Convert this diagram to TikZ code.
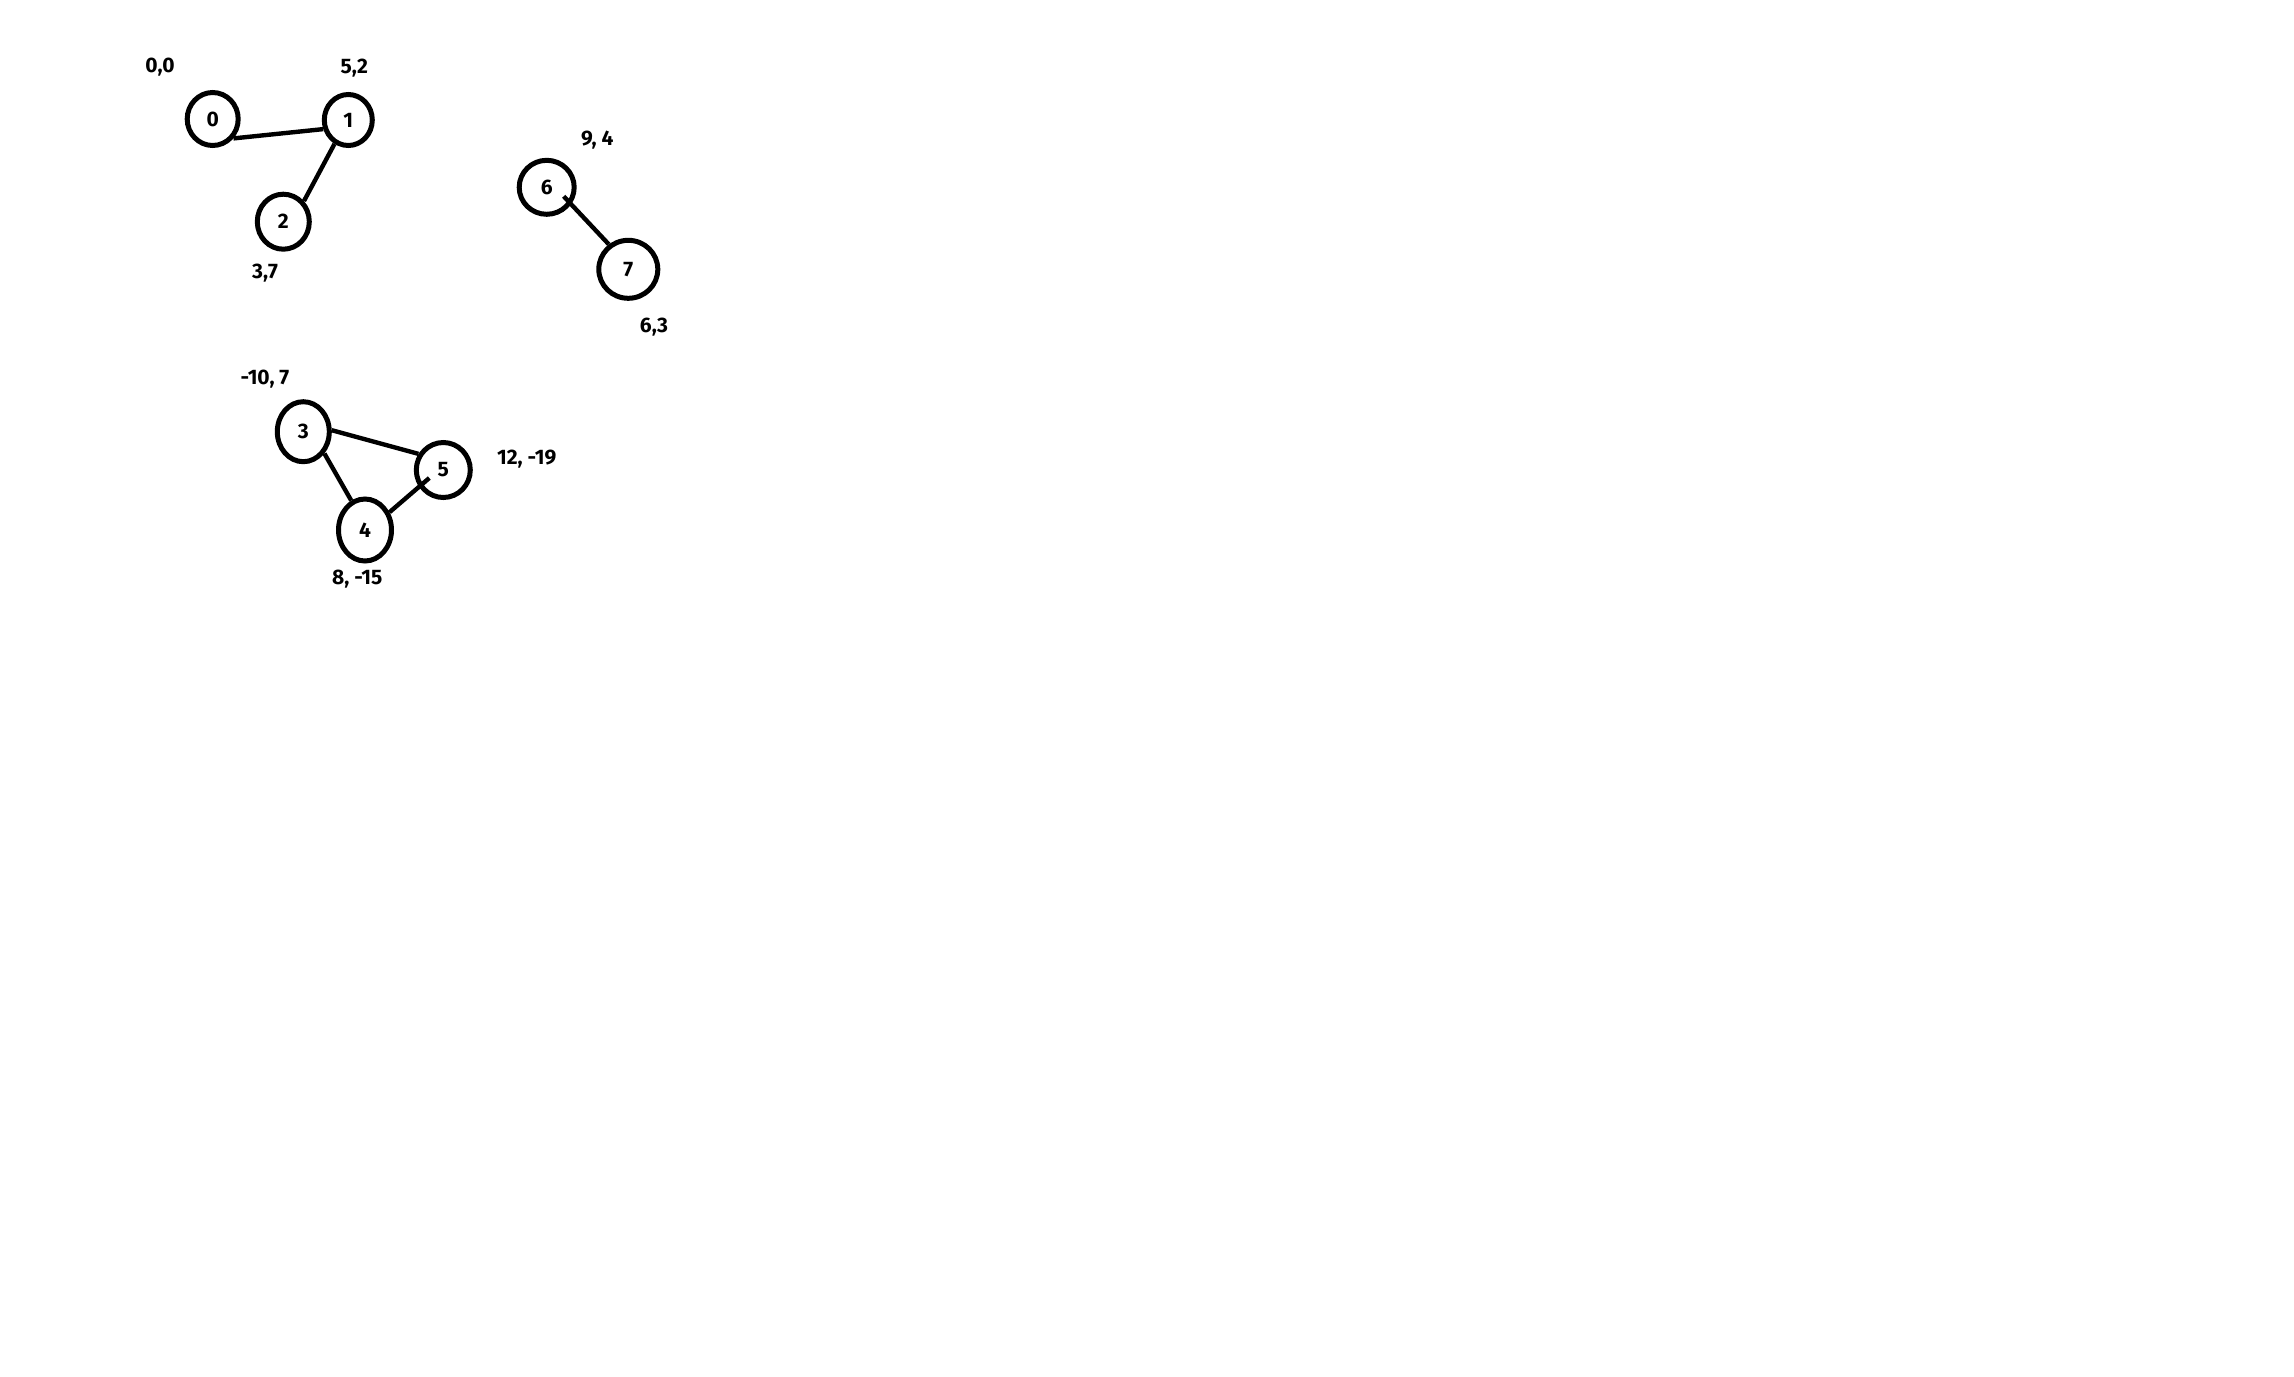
\documentclass[tikz,border=0pt]{standalone}
\usepackage{fontspec}
\setmainfont{Fira Sans}
\usetikzlibrary{shapes.geometric}
\begin{document}
\begin{tikzpicture}[x=0.5pt,y=-0.5pt,
  vert/.style={draw=black,line width=2.5pt,ellipse,inner sep=0pt,font=\fontsize{10.5}{12}\selectfont\bfseries},
  coord/.style={font=\fontsize{10.5}{12}\selectfont\bfseries,inner sep=0pt},
  edge/.style={draw=black,line width=2.2pt}]
\useasboundingbox[fill=white] (0,0) rectangle (2294,1376);
% nodes
\node[vert,minimum width=25.5pt,minimum height=26.5pt] (n0) at (212.7,119) {0};
\node[vert,minimum width=24pt,minimum height=25.5pt] (n1) at (348.3,120) {1};
\node[vert,minimum width=26pt,minimum height=27.5pt] (n2) at (283.3,221.7) {2};
\node[vert,minimum width=27.5pt,minimum height=27pt] (n6) at (546.7,187.3) {6};
\node[vert,minimum width=29.5pt,minimum height=29pt] (n7) at (628.3,269.3) {7};
\node[vert,minimum width=26pt,minimum height=30pt] (n3) at (303.3,431.7) {3};
\node[vert,minimum width=27pt,minimum height=27.5pt] (n5) at (443.3,470) {5};
\node[vert,minimum width=26.5pt,minimum height=31pt] (n4) at (365,530) {4};
% labels
\node[coord] (l0) at (160,66.7) {0,0};
\node[coord] (l1) at (354.3,68.3) {5,2};
\node[coord] (l2) at (265,273.3) {3,7};
\node[coord] (l6) at (597.3,140) {9, 4};
\node[coord] (l7) at (654,326.7) {6,3};
\node[coord] (l3) at (265,379.3) {-10, 7};
\node[coord] (l5) at (526.7,459.3) {12, -19};
\node[coord] (l4) at (357.3,579.3) {8, -15};
% edges
\draw[edge] (n0.-43) -- (n1.200);
\draw[edge] (n1.-120) -- (n2.45);
\draw[edge] ([shift={(17,9)}]n6.center) -- (n7.128);
\draw[edge] (n3.3) -- (n5.147);
\draw[edge] (n3.-46) -- (n4.115);
\draw[edge] (n4.36) -- ([shift={(-14,8)}]n5.center);
\end{tikzpicture}
\end{document}
